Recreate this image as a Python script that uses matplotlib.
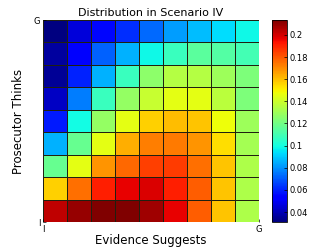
import numpy as np
import matplotlib
matplotlib.use('Agg')
import matplotlib.pyplot as plt

# cell values, top row (G) first, bottom row (I) last; columns I -> G
row_g = [0.0310, 0.0456, 0.0547, 0.0620, 0.0730, 0.0821, 0.0876, 0.0931, 0.0985]
row_8 = [0.0365, 0.0529, 0.0712, 0.0858, 0.0985, 0.1077, 0.1150, 0.1131, 0.1095]
row_7 = [0.0347, 0.0602, 0.0858, 0.1077, 0.1259, 0.1350, 0.1350, 0.1296, 0.1223]
row_6 = [0.0420, 0.0766, 0.1077, 0.1277, 0.1387, 0.1451, 0.1451, 0.1359, 0.1223]
row_5 = [0.0584, 0.0994, 0.1277, 0.1451, 0.1569, 0.1606, 0.1588, 0.1478, 0.1296]
row_4 = [0.0858, 0.1177, 0.1451, 0.1633, 0.1724, 0.1734, 0.1679, 0.1542, 0.1314]
row_3 = [0.1177, 0.1451, 0.1679, 0.1770, 0.1843, 0.1852, 0.1752, 0.1588, 0.1332]
row_2 = [0.1569, 0.1752, 0.1907, 0.1971, 0.1989, 0.1907, 0.1788, 0.1588, 0.1332]
row_i = [0.2035, 0.2099, 0.2135, 0.2135, 0.2080, 0.1971, 0.1788, 0.1588, 0.1332]

grid = np.array([row_g, row_8, row_7, row_6, row_5, row_4, row_3, row_2, row_i])[::-1]

fig = plt.figure(figsize=(3.32, 2.5), dpi=100)
ax = fig.add_axes([43/332, 28/250, 216/332, 202/250])
cax = fig.add_axes([272/332, 28/250, 15/332, 202/250])

mesh = ax.pcolormesh(grid, cmap='jet', edgecolors='#202010', linewidth=0.6)
ax.set_xlim(0, 9)
ax.set_ylim(0, 9)
ax.set_xticks([0, 9])
ax.set_xticklabels(['I', 'G'], fontsize=6)
ax.set_yticks([0, 9])
ax.set_yticklabels(['I', 'G'], fontsize=6)
ax.tick_params(direction='in', length=2, width=0.5, pad=2)
for s in ax.spines.values():
    s.set_visible(False)

ax.set_title('Distribution in Scenario IV', fontsize=8, pad=3)
ax.set_xlabel('Evidence Suggests', fontsize=8.5, labelpad=0)
ax.set_ylabel('Prosecutor Thinks', fontsize=8.5, labelpad=6)

cb = fig.colorbar(mesh, cax=cax)
cb.set_ticks([0.04, 0.06, 0.08, 0.1, 0.12, 0.14, 0.16, 0.18, 0.2])
cb.set_ticklabels(['0.04', '0.06', '0.08', '0.1', '0.12', '0.14', '0.16', '0.18', '0.2'])
cb.ax.tick_params(labelsize=6, direction='in', length=2, width=0.5, pad=2)
cb.outline.set_linewidth(0.6)

fig.savefig('out.png', dpi=100)
